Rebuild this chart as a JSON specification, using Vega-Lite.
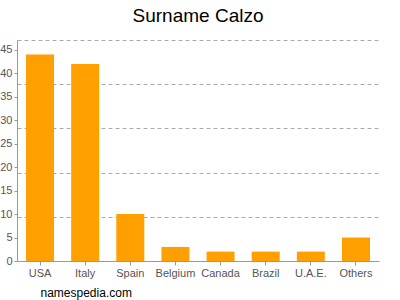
{
  "$schema": "https://vega.github.io/schema/vega-lite/v6.json",
  "width": 362,
  "height": 221,
  "autosize": {"type": "none"},
  "padding": {"left": 17, "top": 40, "right": 21, "bottom": 39},
  "background": "white",
  "config": {
    "view": {"stroke": null},
    "font": "Liberation Sans"
  },
  "title": {
    "text": "Surname Calzo",
    "fontSize": 19,
    "font": "Liberation Sans",
    "fontWeight": "normal",
    "color": "#000000",
    "anchor": "middle",
    "offset": 14
  },
  "data": {
    "values": [
      {"country": "USA", "count": 44},
      {"country": "Italy", "count": 42},
      {"country": "Spain", "count": 10},
      {"country": "Belgium", "count": 3},
      {"country": "Canada", "count": 2},
      {"country": "Brazil", "count": 2},
      {"country": "U.A.E.", "count": 2},
      {"country": "Others", "count": 5}
    ]
  },
  "encoding": {
    "x": {
      "field": "country",
      "type": "nominal",
      "sort": null,
      "scale": {"paddingInner": 0.38, "paddingOuter": 0.2},
      "axis": {
        "title": "namespedia.com",
        "titleFontSize": 12,
        "titleFontWeight": "normal",
        "titleColor": "#000000",
        "titleFont": "Liberation Sans",
        "titleAlign": "left",
        "titleBaseline": "alphabetic",
        "titleX": 23,
        "titleY": 35,
        "labelAngle": 0,
        "labelFontSize": 11,
        "labelColor": "#555555",
        "labelPadding": 2,
        "tickSize": 4,
        "tickColor": "#999999",
        "domainColor": "#999999",
        "grid": false
      }
    }
  },
  "layer": [
    {
      "mark": {"type": "bar", "color": "#FFA000", "opacity": 0},
      "encoding": {
        "y": {
          "field": "count",
          "type": "quantitative",
          "scale": {"domain": [0, 47.1], "nice": false},
          "axis": {
            "orient": "left",
            "title": null,
            "values": [9.42, 18.84, 28.26, 37.68, 47.1],
            "grid": true,
            "gridDash": [4, 3],
            "gridColor": "#aaaaaa",
            "labels": false,
            "ticks": false,
            "domain": false
          }
        }
      }
    },
    {
      "mark": {"type": "bar", "color": "#FFA000"},
      "encoding": {
        "y": {
          "field": "count",
          "type": "quantitative",
          "scale": {"domain": [0, 47.1], "nice": false},
          "axis": {
            "orient": "left",
            "title": null,
            "values": [0, 5, 10, 15, 20, 25, 30, 35, 40, 45],
            "grid": false,
            "labelFontSize": 11,
            "labelColor": "#555555",
            "labelPadding": 2,
            "tickSize": 3,
            "tickColor": "#999999",
            "domainColor": "#999999"
          }
        }
      }
    }
  ],
  "resolve": {"axis": {"y": "independent"}}
}
